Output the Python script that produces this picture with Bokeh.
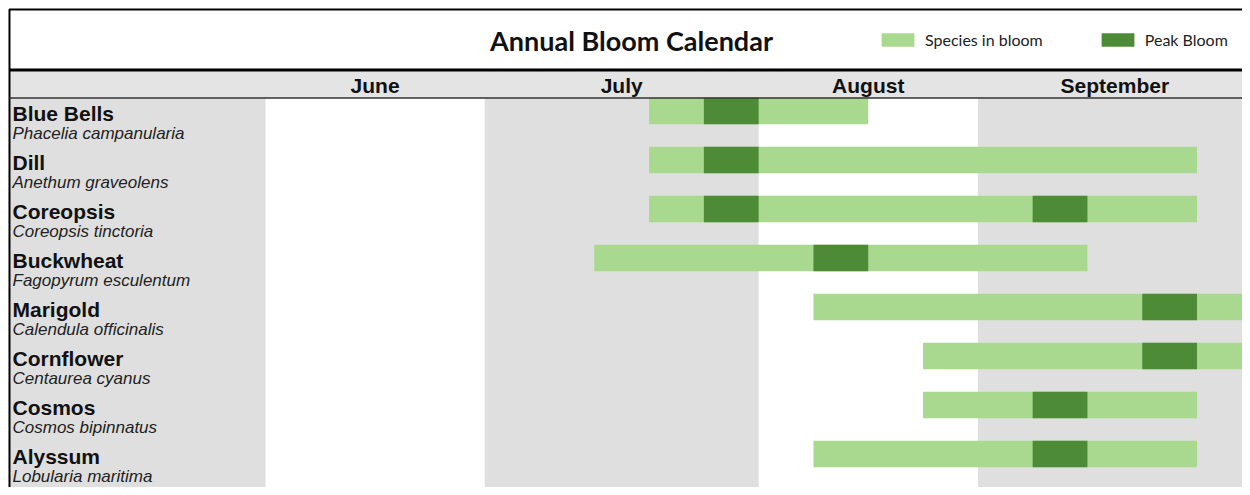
from bokeh.plotting import figure
from bokeh.models import Range1d, Legend, LegendItem, ColumnDataSource, Label
from bokeh.core.properties import value
from bokeh.embed import file_html
from bokeh.resources import INLINE

# ---- data (x in weeks counted from June 1) ----
species = ["Blue Bells", "Dill", "Coreopsis", "Buckwheat",
           "Marigold", "Cornflower", "Cosmos", "Alyssum"]
scientific = ["Phacelia campanularia", "Anethum graveolens", "Coreopsis tinctoria",
              "Fagopyrum esculentum", "Calendula officinalis", "Centaurea cyanus",
              "Cosmos bipinnatus", "Lobularia maritima"]
bloom_start = [7, 7, 7, 6, 10, 12, 12, 10]
bloom_end = [11, 17, 17, 15, 19, 19, 17, 17]
peak_species = ["Blue Bells", "Dill", "Coreopsis", "Coreopsis", "Buckwheat",
                "Marigold", "Cornflower", "Cosmos", "Alyssum"]
peak_start = [8, 8, 8, 14, 10, 16, 16, 14, 14]
peak_end = [9, 9, 9, 15, 11, 17, 17, 15, 15]
months = ["June", "July", "August", "September"]
month_start = [0, 4, 9, 13]
month_end = [4, 9, 13, 19]
title_text = "Annual Bloom Calendar"

# ---- styles ----
LIGHT = "#a9d98e"
DARK = "#4d8b37"
GRAY = "#dfdfdf"
HEAD_GRAY = "#e4e4e4"
SANS = "Liberation Sans"

W, H = 1242, 487
X0, X1 = -4.836, 17.83
Y_BOTTOM, Y_TOP = 7.684, -2.255

p = figure(width=W, height=H, output_backend="svg", toolbar_location=None,
           x_range=Range1d(X0, X1), y_range=Range1d(Y_BOTTOM, Y_TOP),
           min_border=0, x_axis_location=None, y_axis_location=None,
           background_fill_color="white", border_fill_color="white",
           outline_line_color=None)
p.grid.visible = False

EDGE_X = -4.672     # left border of the calendar
EDGE_Y = -2.071     # top border of the calendar
ROW_TOP = -0.265    # bottom of header row
HEAD_TOP = -0.837   # title separator
FAR_X = X1 + 2
FAR_Y = Y_BOTTOM + 2

# label column background
p.quad(left=[EDGE_X], right=[0], top=[ROW_TOP], bottom=[FAR_Y],
       fill_color=GRAY, line_color=None)
# alternating month column shading (July, September)
shade = ColumnDataSource(dict(left=[month_start[i] for i in (1, 3)],
                              right=[month_end[i] for i in (1, 3)]))
p.quad(left="left", right="right", top=ROW_TOP, bottom=FAR_Y, source=shade,
       fill_color=GRAY, line_color=None)
# header row background
p.quad(left=[EDGE_X], right=[FAR_X], top=[HEAD_TOP], bottom=[ROW_TOP],
       fill_color=HEAD_GRAY, line_color=None)

# month labels
mx = [(a + b) / 2 for a, b in zip(month_start, month_end)]
mx[-1] = (month_start[-1] + 18) / 2
msrc = ColumnDataSource(dict(x=mx,
                             y=[(HEAD_TOP + ROW_TOP) / 2 + 0.03] * len(months),
                             text=months))
p.text(x="x", y="y", text="text", source=msrc, text_align="center",
       text_baseline="middle", text_font=value(SANS), text_font_style="bold",
       text_font_size="21px", text_color="#111111")

# bars
bsrc = ColumnDataSource(dict(y=list(range(len(species))), left=bloom_start, right=bloom_end))
bloom_r = p.hbar(y="y", left="left", right="right", height=0.54, source=bsrc,
                 fill_color=LIGHT, line_color=None)
psrc = ColumnDataSource(dict(y=[species.index(s) for s in peak_species],
                             left=peak_start, right=peak_end))
peak_r = p.hbar(y="y", left="left", right="right", height=0.54, source=psrc,
                fill_color=DARK, line_color=None)

# species names
nsrc = ColumnDataSource(dict(x=[-4.617] * len(species),
                             y=[i + 0.06 for i in range(len(species))],
                             y2=[i + 0.45 for i in range(len(species))],
                             name=species, sci=scientific))
p.text(x="x", y="y", text="name", source=nsrc, text_baseline="middle",
       text_font=value(SANS), text_font_style="bold", text_font_size="21px",
       text_color="#111111")
p.text(x="x", y="y2", text="sci", source=nsrc, text_baseline="middle",
       text_font=value(SANS), text_font_style="italic", text_font_size="17px",
       text_color="#222222")

# title
p.add_layout(Label(x=6.68, y=-1.44, text=title_text, text_align="center",
                   text_baseline="middle", text_font="Lato",
                   text_font_style="bold", text_font_size="27px", text_color="#111111"))

# legend in the title band
legend = Legend(items=[LegendItem(label="Species in bloom", renderers=[bloom_r]),
                       LegendItem(label="Peak Bloom", renderers=[peak_r])],
                location=(877, 438), orientation="horizontal",
                glyph_width=41, glyph_height=17, label_height=17,
                label_standoff=7, spacing=54, padding=0, margin=0,
                label_text_font="Lato", label_text_font_size="16px",
                label_text_color="#222222",
                background_fill_alpha=0, border_line_color=None)
p.add_layout(legend)

# frame lines: outer border, title separator, header underline
p.quad(left=[EDGE_X], right=[FAR_X], top=[EDGE_Y], bottom=[FAR_Y],
       fill_color=None, line_color="black", line_width=2)
p.segment(x0=[EDGE_X], x1=[FAR_X], y0=[HEAD_TOP], y1=[HEAD_TOP],
          line_color="black", line_width=3)
p.segment(x0=[EDGE_X], x1=[FAR_X], y0=[ROW_TOP], y1=[ROW_TOP],
          line_color="#333333", line_width=1.5)

open("out.html", "w").write(file_html(p, INLINE))
